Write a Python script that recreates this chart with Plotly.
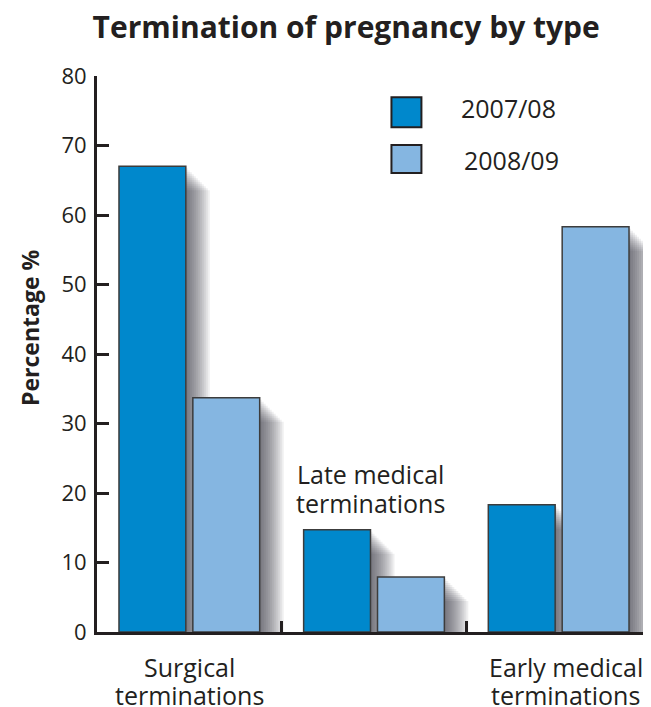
import plotly.graph_objects as go

categories = ["Surgical<br>terminations", "Late medical<br>terminations", "Early medical<br>terminations"]
series_names = ["2007/08", "2008/09"]
values_2007 = [67.0, 14.7, 18.3]
values_2008 = [33.7, 7.9, 58.3]
y_ticks = [0, 10, 20, 30, 40, 50, 60, 70, 80]

dark_blue = "#0088cc"
light_blue = "#85b6e1"
ink = "#231f20"
outline = "#3c3c3c"
font_family = "Open Sans, Noto Sans, DejaVu Sans, sans-serif"

# page body has an 8px default margin; compensate so the plot lands where the reference has it
W, H = 643, 699
ML, MR, MT, MB = 89, 0, 68, 75
plot_w = W - ML - MR
plot_h = H - MT - MB
x_range = [-0.5, 2.5]
y_range = [0, 80]
px_per_x = plot_w / (x_range[1] - x_range[0])
px_per_y = plot_h / (y_range[1] - y_range[0])

xs = list(range(len(categories)))

# soft drop shadow: many faint offset copies (dx px, dy px, alpha)
shadow_layers = [(2 * k, 2 * k, 0.075) for k in range(1, 13)]
n_axes = len(shadow_layers) + 1
top_id = str(n_axes)

fig = go.Figure()
layout_axes = {}
for i in range(n_axes):
    ax_id = "" if i == 0 else str(i + 1)
    is_shadow = i < len(shadow_layers)
    if is_shadow:
        dx, dy, a = shadow_layers[i]
        cols = [f"rgba(38,44,52,{a})"] * 2
        lines = [dict(width=0), dict(width=0)]
    else:
        dx, dy = 0, 0
        cols = [dark_blue, light_blue]
        lines = [dict(color=outline, width=1.5)] * 2
    xr = [x_range[0] - dx / px_per_x, x_range[1] - dx / px_per_x]
    yr = [y_range[0] + dy / px_per_y, y_range[1] + dy / px_per_y]
    for name, vals, col, ln in zip(series_names, [values_2007, values_2008], cols, lines):
        fig.add_trace(go.Bar(
            x=xs, y=vals, name=name, xaxis="x" + ax_id, yaxis="y" + ax_id,
            marker=dict(color=col, line=ln), showlegend=False,
            hoverinfo="skip" if is_shadow else None,
        ))
    xa = dict(range=xr, visible=False, fixedrange=True)
    ya = dict(range=yr, visible=False, fixedrange=True)
    if i > 0:
        xa["overlaying"] = "x"
        ya["overlaying"] = "y"
    if not is_shadow:
        xa.update(visible=True, tickvals=[0.5, 1.5], ticktext=["", ""],
                  showgrid=False, zeroline=False,
                  showline=True, linewidth=3, linecolor=ink,
                  ticks="inside", ticklen=11, tickwidth=3, tickcolor=ink)
        ya.update(visible=True, tickvals=y_ticks, ticktext=[str(v) for v in y_ticks],
                  showgrid=False, zeroline=False,
                  showline=True, linewidth=3, linecolor=ink,
                  ticks="inside", ticklen=12, tickwidth=3, tickcolor=ink,
                  tickfont=dict(size=22, color=ink), ticklabelstandoff=3)
    layout_axes["xaxis" + ax_id] = xa
    layout_axes["yaxis" + ax_id] = ya

fig.update_layout(
    width=W, height=H,
    margin=dict(l=ML, r=MR, t=MT, b=MB),
    paper_bgcolor="white", plot_bgcolor="white",
    barmode="group", bargap=0.2, bargroupgap=0.095,
    font=dict(family=font_family, color=ink),
    title=dict(text="<b>Termination of pregnancy by type</b>", x=0.526, xanchor="center",
               y=0.9728, yanchor="middle", font=dict(size=30, color=ink)),
    **layout_axes,
)

# y-axis title
fig.add_annotation(x=-0.1207, y=0.547, xref="paper", yref="paper", text="<b>Percentage %</b>",
                   textangle=-90, showarrow=False, xanchor="center", yanchor="middle",
                   font=dict(size=23, color=ink))

# category labels, one annotation per line for tight line spacing
label_specs = [
    (0, 0, "below", 0),
    (1, 20.7, "mid", -4),
    (2, 0, "below", 7),
]
for cat, (xc, yc, kind, xsh) in zip(categories, label_specs):
    lines = cat.split("<br>")
    for j, line in enumerate(lines):
        if kind == "below":
            ysh = -35 - 28 * j
        else:
            ysh = 14.5 - 29 * j
        fig.add_annotation(x=xc, y=yc, xref="x" + top_id, yref="y" + top_id, text=line,
                           showarrow=False, xanchor="center", yanchor="middle",
                           yshift=ysh, xshift=xsh, font=dict(size=25, color=ink))

# legend drawn as shapes + text
legend_rows = [(series_names[0], dark_blue, 0.962, 0.908, 0.942, 0.654),
               (series_names[1], light_blue, 0.876, 0.8255, 0.849, 0.658)]
for name, col, ytop, ybot, ytext, xtext in legend_rows:
    fig.add_shape(type="rect", xref="paper", yref="paper", x0=0.5315, x1=0.5856, y0=ybot, y1=ytop,
                  fillcolor=col, line=dict(color=ink, width=2))
    fig.add_annotation(x=xtext, y=ytext, xref="paper", yref="paper", text=name, showarrow=False,
                       xanchor="left", yanchor="middle", font=dict(size=25, color=ink))

fig.write_html("out.html")
